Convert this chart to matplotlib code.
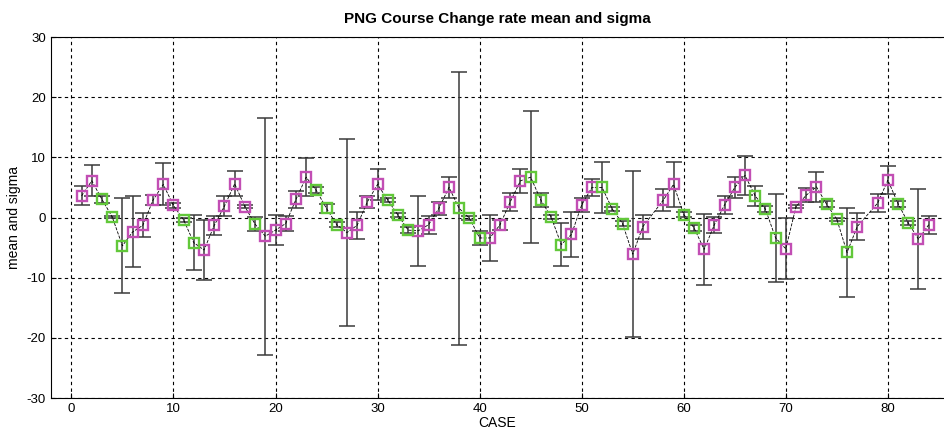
import numpy as np
import matplotlib.pyplot as plt

plt.rcParams['font.family'] = ['Liberation Sans', 'DejaVu Sans']
plt.rcParams['axes.unicode_minus'] = False

# case numbers (57 and 78 are absent)
cases = [1, 2, 3, 4, 5, 6, 7, 8, 9, 10, 11, 12, 13, 14, 15, 16, 17, 18, 19, 20,
         21, 22, 23, 24, 25, 26, 27, 28, 29, 30, 31, 32, 33, 34, 35, 36, 37, 38, 39, 40,
         41, 42, 43, 44, 45, 46, 47, 48, 49, 50, 51, 52, 53, 54, 55, 56, 58, 59, 60,
         61, 62, 63, 64, 65, 66, 67, 68, 69, 70, 71, 72, 73, 74, 75, 76, 77, 79, 80,
         81, 82, 83, 84]

means = [3.6, 6.1, 3.0, 0.1, -4.7, -2.4, -1.3, 2.9, 5.5, 2.0, -0.4, -4.2, -5.4, -1.3, 1.9, 5.6, 1.8, -1.1, -3.1, -2.1,
         -1.0, 3.0, 6.7, 4.5, 1.5, -1.2, -2.5, -1.3, 2.6, 5.5, 2.9, 0.4, -2.1, -2.2, -1.2, 1.5, 5.0, 1.5, -0.1, -3.4,
         -3.4, -1.2, 2.6, 6.1, 6.7, 2.9, 0.1, -4.5, -2.8, 2.1, 5.0, 5.0, 1.4, -1.0, -6.1, -1.5, 2.9, 5.5, 0.5,
         -1.7, -5.3, -1.2, 2.1, 5.0, 7.0, 3.6, 1.4, -3.4, -5.2, 1.8, 3.7, 5.1, 2.2, -0.3, -5.8, -1.5, 2.4, 6.2,
         2.3, -0.9, -3.6, -1.2]

sigmas = [1.6, 2.6, 0.6, 0.2, 7.9, 5.9, 2.0, 0.9, 3.5, 0.4, 0.4, 4.6, 5.0, 1.6, 1.6, 2.1, 0.3, 1.2, 19.7, 2.5,
          1.2, 1.4, 3.2, 0.5, 0.7, 0.4, 15.5, 2.2, 1.0, 2.6, 0.3, 0.3, 0.5, 5.8, 1.5, 1.1, 1.8, 22.7, 0.3, 1.2,
          3.9, 0.8, 1.5, 2.0, 11.0, 1.2, 0.3, 3.6, 3.7, 1.2, 1.4, 4.2, 0.3, 0.4, 13.8, 2.0, 1.8, 3.8, 0.4,
          0.5, 5.9, 1.3, 1.5, 1.8, 3.3, 1.7, 0.5, 7.3, 5.1, 0.3, 1.2, 2.5, 0.5, 0.3, 7.4, 2.3, 1.5, 2.3,
          0.5, 0.4, 8.3, 1.5]

# M = magenta marker, G = green marker
groups = list("MMGGGMMMMMGGMMMMMGMMMMMGGGMMMMGGGMMMMGGGMMMMGGGGMMMGGGMMMMGGMMMMMGGGMMMMGGGMMMGGMM")

cases = np.array(cases)
means = np.array(means)
sigmas = np.array(sigmas)
groups = np.array(groups)

fig = plt.figure(figsize=(9.44, 4.38), dpi=100)
ax = fig.add_axes([0.054, 0.0913, 0.946, 0.8242])

ax.errorbar(cases, means, yerr=sigmas, fmt='--', color='black', lw=0.6,
            ecolor='#3a3a3a', elinewidth=1.1, capsize=6, capthick=1.1, zorder=2)

colors = {'M': '#c24eb4', 'G': '#62c83a'}
for g in ['M', 'G']:
    sel = groups == g
    ax.plot(cases[sel], means[sel], 's', ms=7, mfc='none', mec=colors[g],
            mew=1.7, zorder=3)

ax.set_xlim(-2, 85.5)
ax.set_ylim(-30, 30)
ax.set_xticks(range(0, 81, 10))
ax.set_yticks(range(-30, 31, 10))
ax.spines['right'].set_visible(False)
ax.grid(True, color='black', linestyle=(0, (3, 3)), linewidth=0.8)
ax.tick_params(direction='in', labelsize=9.5, right=False)

ax.set_title('PNG Course Change rate mean and sigma', fontsize=11, fontweight='bold', pad=10)
ax.set_xlabel('CASE', fontsize=10, labelpad=1)
ax.set_ylabel('mean and sigma', fontsize=10, labelpad=4)

fig.savefig('out.png', dpi=100)
